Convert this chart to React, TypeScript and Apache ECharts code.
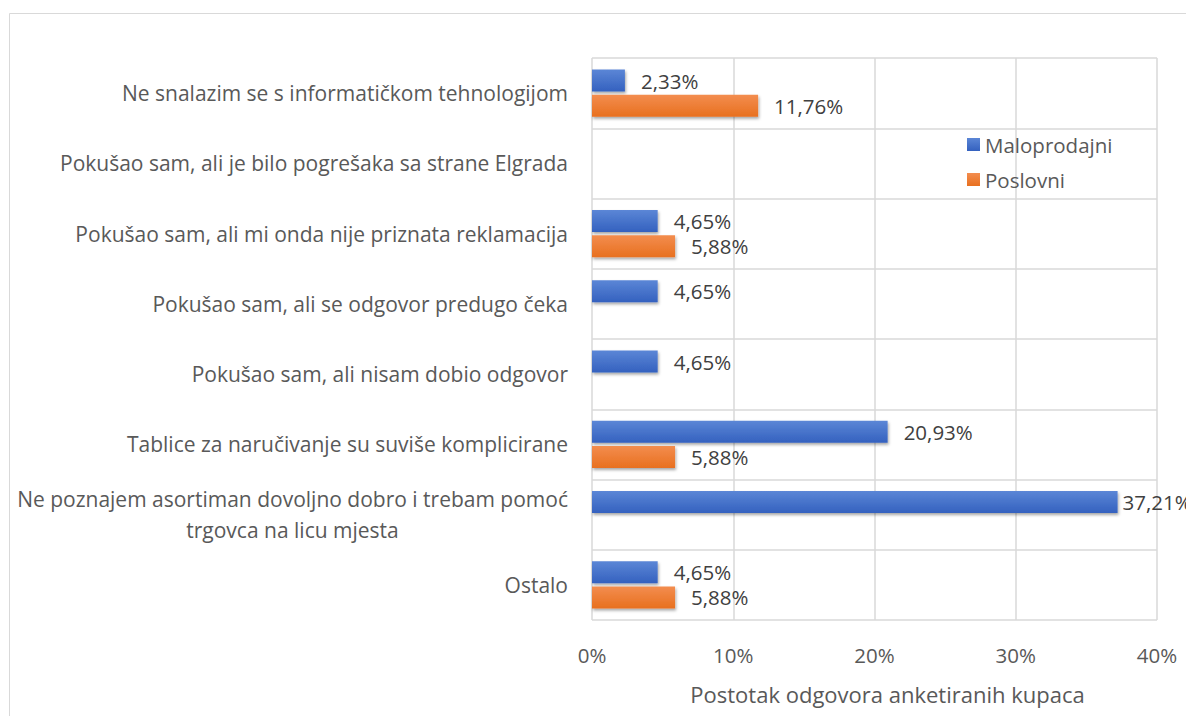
import React, { useEffect, useRef } from "react";
import * as echarts from "echarts";

const categories: string[] = [
  "Ne snalazim se s informatičkom tehnologijom",
  "Pokušao sam, ali je bilo pogrešaka sa strane Elgrada",
  "Pokušao sam, ali mi onda nije priznata reklamacija",
  "Pokušao sam, ali se odgovor predugo čeka",
  "Pokušao sam, ali nisam dobio odgovor",
  "Tablice za naručivanje su suviše komplicirane",
  "Ne poznajem asortiman dovoljno dobro i trebam pomoć\ntrgovca na licu mjesta",
  "Ostalo",
];

const maloprodajni: (number | null)[] = [2.33, null, 4.65, 4.65, 4.65, 20.93, 37.21, 4.65];
const poslovni: (number | null)[] = [11.76, null, 5.88, null, null, 5.88, null, 5.88];

const seriesNames = ["Maloprodajni", "Poslovni"];
const xTicks = { min: 0, max: 40, interval: 10 };
const xAxisName = "Postotak odgovora anketiranih kupaca";

const FONT = "'Open Sans', sans-serif";
const FS = 21;
const LFS = 20.5;

function measure(text: string, size: number): number {
  const c = document.createElement("canvas").getContext("2d");
  if (!c) return text.length * size * 0.5;
  c.font = `${size}px 'Open Sans'`;
  return c.measureText(text).width;
}

export default function App() {
  const ref = useRef<HTMLDivElement>(null);
  useEffect(() => {
    if (!ref.current) return;
    const chart = echarts.init(ref.current, undefined, { renderer: "svg" });

    const fmt = (p: any) => {
      const v = Array.isArray(p.value) ? p.value[0] : p.value;
      if (v === null || v === undefined) return "";
      return v.toFixed(2).replace(".", ",") + "%";
    };

    const grad = (top: string, bottom: string) =>
      new echarts.graphic.LinearGradient(0, 0, 0, 1, [
        { offset: 0, color: top },
        { offset: 1, color: bottom },
      ]);

    const labelCfg = {
      show: true,
      position: "right",
      distance: 16,
      fontSize: LFS,
      color: "#404040",
      fontFamily: FONT,
      formatter: fmt,
    };

    // the longest bar's label sits closer to its bar, as in the reference
    const maxVal = Math.max(...(maloprodajni.filter((v) => v !== null) as number[]));
    const maloData = maloprodajni.map((v) =>
      v === maxVal ? { value: v, label: { distance: 5 } } : v
    );

    const firstLine = categories.find((c) => c.includes("\n"))!.split("\n")[0];

    chart.setOption({
      animation: false,
      backgroundColor: "#ffffff",
      textStyle: { fontFamily: FONT },
      graphic: [
        {
          type: "rect",
          shape: { x: 9.5, y: 13.5, width: 1300, height: 800 },
          style: { fill: "none", stroke: "#d9d9d9", lineWidth: 1 },
          silent: true,
          z: -10,
        },
      ],
      legend: {
        orient: "vertical",
        left: 962,
        top: 129,
        itemWidth: 13,
        itemHeight: 13,
        itemGap: 14,
        icon: "rect",
        textStyle: { fontSize: LFS, color: "#595959", fontFamily: FONT },
        data: seriesNames,
      },
      grid: { left: 592, right: 29, top: 58, bottom: 96, containLabel: false },
      xAxis: {
        type: "value",
        min: xTicks.min,
        max: xTicks.max,
        interval: xTicks.interval,
        axisLine: { show: false },
        axisTick: { show: false },
        axisLabel: {
          formatter: "{value}%",
          fontSize: LFS,
          color: "#595959",
          margin: 24,
          fontFamily: FONT,
        },
        splitLine: { show: true, lineStyle: { color: "#d9d9d9", width: 1.5 } },
        name: xAxisName,
        nameLocation: "middle",
        nameGap: 63,
        nameTextStyle: {
          fontSize: 22,
          color: "#595959",
          fontFamily: FONT,
          padding: [0, 0, 0, 26],
        },
      },
      yAxis: {
        type: "category",
        inverse: true,
        data: categories,
        axisLine: { show: false },
        axisTick: { show: false },
        splitLine: { show: true, lineStyle: { color: "#d9d9d9", width: 1.5 } },
        axisLabel: {
          fontSize: FS,
          color: "#595959",
          margin: 24,
          lineHeight: 31,
          fontFamily: FONT,
          formatter: (val: string) => {
            const parts = val.split("\n");
            if (parts.length < 2) return val;
            return parts[0] + "\n{c|" + parts[1] + "}";
          },
          rich: {
            c: {
              fontSize: FS,
              color: "#595959",
              fontFamily: FONT,
              lineHeight: 31,
              width: Math.ceil(measure(firstLine, FS)),
              align: "center",
            },
          },
        },
      },
      series: [
        {
          name: seriesNames[0],
          type: "bar",
          data: maloData,
          barWidth: 22,
          barGap: "14%",
          itemStyle: {
            color: grad("#5b86d6", "#3461bf"),
            shadowColor: "rgba(0,0,0,0.35)",
            shadowBlur: 3,
            shadowOffsetX: 1,
            shadowOffsetY: 2,
          },
          label: labelCfg,
        },
        {
          name: seriesNames[1],
          type: "bar",
          data: poslovni,
          barWidth: 22,
          barGap: "14%",
          itemStyle: {
            color: grad("#f38d4f", "#e8701f"),
            shadowColor: "rgba(0,0,0,0.35)",
            shadowBlur: 3,
            shadowOffsetX: 1,
            shadowOffsetY: 2,
          },
          label: labelCfg,
        },
      ],
    });
    return () => chart.dispose();
  }, []);

  return (
    <div
      ref={ref}
      style={{ position: "fixed", left: 0, top: 0, width: 1186, height: 716 }}
    />
  );
}
